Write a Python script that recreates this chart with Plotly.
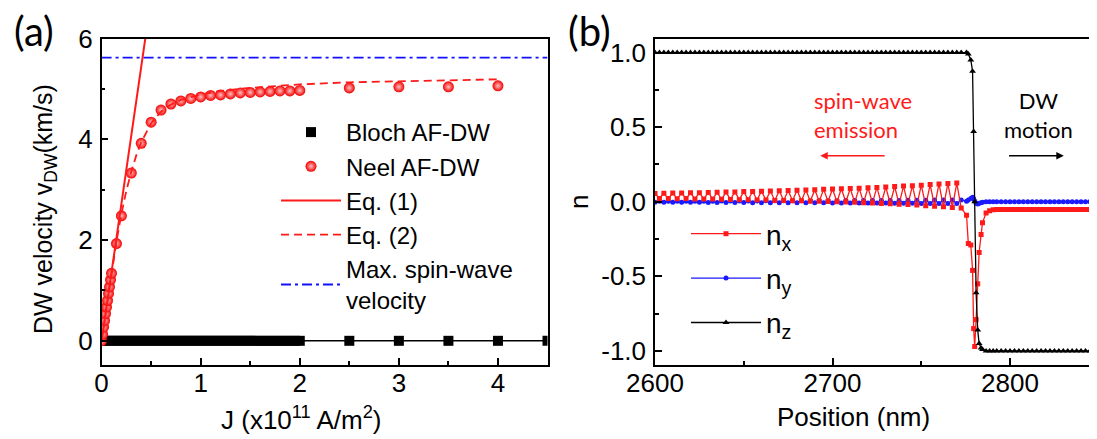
import numpy as np
import plotly.graph_objects as go

# ---------------- Panel (a) data ----------------
J_bloch = [0.0, 0.05, 0.1, 0.15, 0.2, 0.25, 0.3, 0.35, 0.4, 0.45, 0.5, 0.55, 0.6, 0.65, 0.7,
           0.75, 0.8, 0.85, 0.9, 0.95, 1.0, 1.05, 1.1, 1.15, 1.2, 1.25, 1.3, 1.35, 1.4, 1.45,
           1.5, 1.55, 1.6, 1.65, 1.7, 1.75, 1.8, 1.85, 1.9, 1.95, 2.0, 2.5, 3.0, 3.5, 4.0, 4.5]
v_bloch = [0.0] * len(J_bloch)

J_neel = [0.0, 0.01, 0.02, 0.03, 0.04, 0.05, 0.06, 0.07, 0.08, 0.09, 0.1,
          0.15, 0.2, 0.3, 0.4, 0.5, 0.6, 0.7, 0.8, 0.9, 1.0, 1.1, 1.2, 1.3, 1.4,
          1.5, 1.6, 1.7, 1.8, 1.9, 2.0, 2.5, 3.0, 3.5, 4.0]
v_neel = [0.0, 0.13, 0.27, 0.40, 0.54, 0.67, 0.80, 0.94, 1.07, 1.21, 1.34,
          1.93, 2.48, 3.33, 3.92, 4.34, 4.58, 4.70, 4.76, 4.81, 4.84, 4.87, 4.88, 4.90, 4.92,
          4.93, 4.94, 4.95, 4.96, 4.96, 4.97, 5.02, 5.04, 5.04, 5.06]

J_eq1 = [0.0, 0.5]
v_eq1 = [0.0, 6.8]

J_eq2 = [0.0, 0.05, 0.1, 0.15, 0.2, 0.25, 0.3, 0.35, 0.4, 0.5, 0.6, 0.7, 0.8, 1.0,
         1.2, 1.5, 2.0, 2.5, 3.0, 3.5, 4.0]
v_eq2 = [0.0, 0.68, 1.35, 1.97, 2.52, 2.98, 3.36, 3.68, 3.94, 4.32, 4.55, 4.69, 4.78, 4.89,
         4.96, 5.02, 5.09, 5.13, 5.15, 5.17, 5.19]

J_sw = [0.0, 4.5]
v_sw = [5.62, 5.62]

# ---------------- Panel (b) data ----------------
pos_pre = np.arange(2600.0, 2773.0, 2.5)          # 70 samples before the wall
pos_dw = [2775.5, 2776.5, 2777.9, 2778.9, 2779.5, 2780.1, 2780.9, 2781.8,
          2782.6, 2783.7, 2784.5, 2786.5, 2788.5, 2790.5]
pos_post = np.arange(2792.5, 2856.0, 2.5)         # samples after the wall

nx_pre = [0.056, 0.022, 0.057, 0.021, 0.058, 0.020, 0.059, 0.021, 0.060, 0.019,
          0.061, 0.018, 0.062, 0.018, 0.063, 0.016, 0.065, 0.015, 0.066, 0.014,
          0.068, 0.013, 0.069, 0.012, 0.071, 0.011, 0.072, 0.009, 0.074, 0.008,
          0.076, 0.007, 0.077, 0.006, 0.079, 0.004, 0.081, 0.003, 0.083, 0.002,
          0.085, 0.000, 0.087, -0.002, 0.089, -0.004, 0.091, -0.006, 0.094, -0.008,
          0.096, -0.011, 0.099, -0.013, 0.102, -0.016, 0.105, -0.019, 0.108, -0.022,
          0.111, -0.026, 0.115, -0.030, 0.119, -0.034, 0.123, -0.038, 0.125, -0.042]
nx_dw = [-0.09, -0.28, -0.29, -0.46, -0.85, -0.97, -0.79, -0.55, -0.34, -0.22,
         -0.14, -0.076, -0.060, -0.054]
nx_post = [-0.052] * len(pos_post)

ny_pre = [-0.004, 0.004, -0.004, 0.004, -0.004, 0.004, -0.004, 0.004, -0.004, 0.004,
          -0.004, 0.004, -0.005, 0.004, -0.005, 0.005, -0.005, 0.005, -0.005, 0.005,
          -0.005, 0.005, -0.006, 0.005, -0.006, 0.006, -0.006, 0.006, -0.006, 0.006,
          -0.006, 0.006, -0.007, 0.006, -0.007, 0.007, -0.007, 0.007, -0.007, 0.007,
          -0.008, 0.007, -0.008, 0.008, -0.008, 0.008, -0.008, 0.008, -0.009, 0.008,
          -0.009, 0.009, -0.009, 0.009, -0.010, 0.009, -0.010, 0.010, -0.010, 0.010,
          -0.011, 0.010, -0.011, 0.011, -0.011, 0.011, -0.012, 0.011, -0.012, 0.012]
ny_dw = [0.004, 0.012, 0.022, 0.030, 0.020, 0.005, -0.010, -0.015, -0.010, -0.006,
         -0.003, 0.0, 0.0, 0.0]
ny_post = [0.0] * len(pos_post)

nz_pre = [1.0] * len(pos_pre)
nz_dw = [1.0, 0.99, 0.95, 0.875, 0.47, 0.0, -0.61, -0.86, -0.95, -0.98,
         -0.99, -1.0, -1.0, -1.0]
nz_post = [-1.0] * len(pos_post)

pos_b = list(pos_pre) + pos_dw + list(pos_post)
nx = nx_pre + nx_dw + nx_post
ny = ny_pre + ny_dw + ny_post
nz = nz_pre + nz_dw + nz_post

# ---------------- layout helpers ----------------
W, H = 1097, 439
OFF = 8  # page body margin offset of the figure in the browser


def px(xp):
    return (xp - OFF) / W


def py(yp):
    return 1 - (yp - OFF) / H


TOP, BOT = 38.5, 365.0
ydom = [py(BOT), py(TOP)]

TICKFONT = dict(family="Liberation Sans, Arial, sans-serif", size=26, color="black")
NOTEFONT = "Lato, Calibri, sans-serif"

fig = go.Figure()

# ---- panel (a) traces ----
fig.add_trace(go.Scatter(x=J_bloch, y=v_bloch, mode="lines", line=dict(color="black", width=1.5),
                         showlegend=False, xaxis="x", yaxis="y", hoverinfo="skip"))
fig.add_trace(go.Scatter(x=J_bloch, y=v_bloch, mode="markers", name="Bloch AF-DW",
                         marker=dict(symbol="square", size=10, color="black"),
                         legend="legend", legendrank=1, xaxis="x", yaxis="y"))
fig.add_trace(go.Scatter(x=J_neel, y=v_neel, mode="markers", name="Neel AF-DW",
                         marker=dict(symbol="circle", size=11, color="#f40000",
                                     gradient=dict(type="radial", color="#ffc0c0"),
                                     line=dict(width=0)),
                         legend="legend", legendrank=2, xaxis="x", yaxis="y"))
fig.add_trace(go.Scatter(x=J_eq1, y=v_eq1, mode="lines", name="Eq. (1)",
                         line=dict(color="#ff1a1a", width=2),
                         legend="legend", legendrank=3, xaxis="x", yaxis="y"))
fig.add_trace(go.Scatter(x=J_eq2, y=v_eq2, mode="lines", name="Eq. (2)",
                         line=dict(color="#ff1a1a", width=1.8, dash="8px,5px"),
                         legend="legend", legendrank=4, xaxis="x", yaxis="y"))
fig.add_trace(go.Scatter(x=J_sw, y=v_sw, mode="lines", name="Max. spin-wave<br>velocity",
                         line=dict(color="#1010ff", width=1.8, dash="10px,4px,3px,4px"),
                         legend="legend", legendrank=5, xaxis="x", yaxis="y"))

# ---- panel (b) traces ----
fig.add_trace(go.Scatter(x=pos_b, y=ny, mode="lines+markers", name="n<sub>y</sub>",
                         line=dict(color="#1a1aff", width=1.3),
                         marker=dict(symbol="circle", size=5, color="#1a1aff"),
                         legend="legend2", legendgroup="y", legendrank=2, xaxis="x2", yaxis="y2"))
fig.add_trace(go.Scatter(x=pos_b, y=nx, mode="lines+markers", name="n<sub>x</sub>",
                         line=dict(color="#ff1a1a", width=1.3),
                         marker=dict(symbol="square", size=5, color="#ff1a1a"),
                         legend="legend2", legendgroup="x", legendrank=1, xaxis="x2", yaxis="y2"))
fig.add_trace(go.Scatter(x=pos_b, y=nz, mode="lines+markers", name="n<sub>z</sub>",
                         line=dict(color="black", width=1.3),
                         marker=dict(symbol="triangle-up", size=6, color="black"),
                         legend="legend2", legendgroup="z", legendrank=3, xaxis="x2", yaxis="y2"))

axis_common = dict(showline=True, linewidth=1.5, linecolor="black", ticks="inside",
                   ticklen=7, tickwidth=1.5, tickcolor="black", showgrid=False,
                   zeroline=False, tickfont=TICKFONT, automargin=False)
minor_common = dict(ticks="inside", ticklen=4, tickwidth=1.5, tickcolor="black", showgrid=False)

fig.update_layout(
    width=W, height=H, autosize=False,
    margin=dict(l=0, r=0, t=0, b=0, pad=0, autoexpand=False),
    paper_bgcolor="white", plot_bgcolor="white",
    xaxis=dict(domain=[px(101.6), px(547.5)], range=[0, 4.5], dtick=1, tick0=0,
               mirror=True, anchor="y", ticklabelstandoff=-6,
               minor=dict(dtick=0.5, **minor_common), **axis_common),
    yaxis=dict(domain=ydom, range=[-0.48, 6], dtick=2, tick0=0, mirror=True, anchor="x",
               ticklabelstandoff=2, minor=dict(dtick=1, **minor_common), **axis_common),
    xaxis2=dict(domain=[px(655), 1.0], range=[2600, 2853.5], dtick=100, tick0=2600,
                mirror=True, anchor="y2", ticklabelstandoff=-6,
                minor=dict(dtick=50, **minor_common), **axis_common),
    yaxis2=dict(domain=ydom, range=[-1.094, 1.094], anchor="x2", mirror=False,
                tickmode="array", tickvals=[-1.0, -0.5, 0.0, 0.5, 1.0],
                ticktext=["-1.0", "-0.5", "0.0", "0.5", "1.0"], ticklabelstandoff=2,
                minor=dict(tickmode="array", tickvals=[-0.75, -0.25, 0.25, 0.75], **minor_common),
                **axis_common),
    legend=dict(x=px(276), y=py(110), xanchor="left", yanchor="top",
                bgcolor="rgba(0,0,0,0)", borderwidth=0, itemwidth=60,
                font=dict(family="Liberation Sans, Arial, sans-serif", size=24, color="black")),
    legend2=dict(x=px(686), y=py(209), xanchor="left", yanchor="top",
                 bgcolor="rgba(0,0,0,0)", borderwidth=0, itemwidth=70, tracegroupgap=5,
                 font=dict(family="Liberation Sans, Arial, sans-serif", size=28, color="black")),
)

ann = []


def note(text, xp, yp, size, angle=0, color="black", family=None):
    ann.append(dict(text=text, x=px(xp), y=py(yp), xref="paper", yref="paper",
                    xanchor="center", yanchor="middle", showarrow=False, textangle=angle,
                    font=dict(family=family or TICKFONT["family"], size=size, color=color)))


note("(a)", 34, 31, 40, family=NOTEFONT)
note("(b)", 589, 31, 40, family=NOTEFONT)
note("J (x10<sup>11</sup> A/m<sup>2</sup>)", 301, 418, 26)
note("DW velocity v<sub>DW</sub>(km/s)", 44.6, 209.5, 25, angle=-90)
note("Position (nm)", 853, 417, 26)
note("n", 579, 202, 26, angle=-90)

ann.append(dict(text="spin-wave<br>emission", x=2688.3, y=0.58, xref="x2", yref="y2",
                xanchor="left", yanchor="middle", align="left", showarrow=False,
                font=dict(family=NOTEFONT, size=22, color="#ff1a1a")))
ann.append(dict(text="DW<br>motion", x=2815.9, y=0.58, xref="x2", yref="y2",
                xanchor="center", yanchor="middle", align="center", showarrow=False,
                font=dict(family=NOTEFONT, size=22, color="black")))
ann.append(dict(text="", x=2693.1, y=0.309, ax=2730.2, ay=0.309, xref="x2", yref="y2",
                axref="x2", ayref="y2", showarrow=True, arrowhead=2, arrowsize=1,
                arrowwidth=1.5, arrowcolor="#ff1a1a"))
ann.append(dict(text="", x=2830.3, y=0.309, ax=2798.6, ay=0.309, xref="x2", yref="y2",
                axref="x2", ayref="y2", showarrow=True, arrowhead=2, arrowsize=1,
                arrowwidth=1.5, arrowcolor="black"))
fig.update_layout(annotations=ann)

fig.write_html("out.html")
